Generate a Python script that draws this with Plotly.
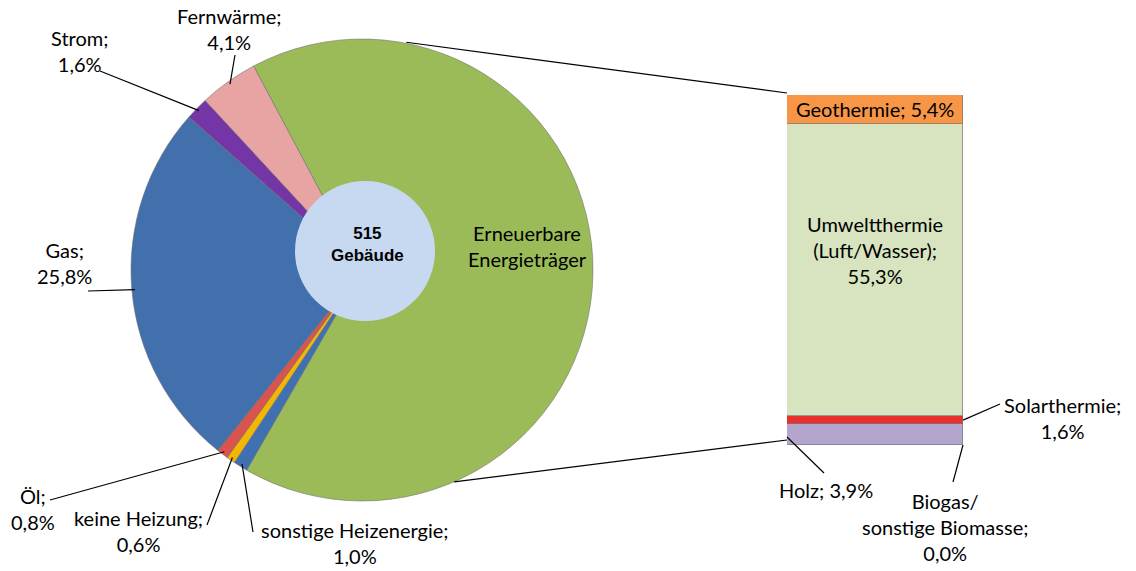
import math
import plotly.graph_objects as go

W, H = 1136, 571          # reference picture size
OFF = 0                   # page body margin is removed by post_script
FW, FH = W - 2 * OFF, H - 2 * OFF

# ---------------- data ----------------
pie_labels = ["Erneuerbare Energieträger", "sonstige Heizenergie", "keine Heizung",
              "Öl", "Gas", "Strom", "Fernwärme"]
pie_values = [66.1, 1.0, 0.6, 0.8, 25.8, 1.6, 4.1]
pie_colors = ["#9BBB59", "#3F70B2", "#F2B705", "#D9534F", "#4170AC", "#7436A6", "#E8A4A3"]

bar_labels = ["Biogas/ sonstige Biomasse", "Holz", "Solarthermie",
              "Umweltthermie (Luft/Wasser)", "Geothermie"]
bar_values = [0.0, 3.9, 1.6, 55.3, 5.4]
bar_colors = ["#8064A2", "#B3A5CC", "#E8302E", "#D7E4BF", "#F79646"]

center_text = "<b>515<br>Gebäude</b>"


def pct(v):
    return f"{v:.1f}".replace(".", ",") + "%"


# ---------------- layout helpers (reference pixels -> paper) ----------------
def px(x):
    return (x - OFF) / FW


def py(y):
    return 1 - (y - OFF) / FH


PIE_CX, PIE_CY, PIE_R = 362, 270, 231
ROT = -28
pie_dom_x = [px(PIE_CX - PIE_R), px(PIE_CX + PIE_R)]
pie_dom_y = [py(PIE_CY + PIE_R), py(PIE_CY - PIE_R)]

BAR_L, BAR_R, BAR_T, BAR_B = 787, 963, 95, 445
bar_dom_x = [px(BAR_L), px(BAR_R)]
bar_dom_y = [py(BAR_B), py(BAR_T)]
bar_total = sum(bar_values)

FONT = "Lato, 'Open Sans', sans-serif"
FS = 20

fig = go.Figure()

fig.add_trace(go.Pie(
    labels=pie_labels, values=pie_values, sort=False, direction="clockwise",
    rotation=ROT, textinfo="none", hoverinfo="label+percent",
    marker=dict(colors=pie_colors, line=dict(color="rgba(110,110,110,0.55)", width=1)),
    domain=dict(x=pie_dom_x, y=pie_dom_y), showlegend=False,
))

for lab, val, col in zip(bar_labels, bar_values, bar_colors):
    fig.add_trace(go.Bar(
        x=[0], y=[val], name=lab, width=1, marker=dict(color=col,
        line=dict(color="rgba(120,120,120,0.7)", width=1)),
        showlegend=False, xaxis="x", yaxis="y", hoverinfo="name+y",
    ))

# slice mid angles (clockwise from 12 o'clock), from data
ptotal = sum(pie_values)
mids = []
a0 = ROT
for v in pie_values:
    span = v / ptotal * 360
    mids.append(a0 + span / 2)
    a0 += span


def edge(angle_deg, r=PIE_R):
    a = math.radians(angle_deg)
    return PIE_CX + r * math.sin(a), PIE_CY - r * math.cos(a)


shapes = []
annotations = []


def label(x, y, text, size=FS, family=FONT):
    annotations.append(dict(x=x, y=y, xref="paper", yref="paper", text=text,
                            showarrow=False, xanchor="center", yanchor="middle",
                            font=dict(family=family, size=size, color="#000")))


def line(x0, y0, x1, y1):
    shapes.append(dict(type="line", xref="paper", yref="paper", x0=x0, y0=y0,
                       x1=x1, y1=y1, line=dict(color="#000", width=1.2)))


# label placement: (text centre px, line end px or None)
pie_label_pos = [
    ((527, 246), None),
    ((355, 543), (253, 532)),
    ((138, 531), (207, 525)),
    ((33, 509), (50, 500)),
    ((64, 263), (88, 291)),
    ((79, 51), (100, 71)),
    ((229, 29), (235, 55)),
]

for i, (lab, val) in enumerate(zip(pie_labels, pie_values)):
    (tx, ty), lend = pie_label_pos[i]
    if i == 0:
        text = "Erneuerbare<br>Energieträger"
    else:
        text = f"{lab};<br>{pct(val)}"
    label(px(tx), py(ty), text)
    if lend is not None:
        ex, ey = edge(mids[i], PIE_R - 3)
        line(px(ex), py(ey), px(lend[0]), py(lend[1]))

# centre circle
CC_X, CC_Y, CC_R = 365, 251, 70
shapes.append(dict(type="circle", xref="paper", yref="paper",
                   x0=px(CC_X - CC_R), x1=px(CC_X + CC_R),
                   y0=py(CC_Y + CC_R), y1=py(CC_Y - CC_R),
                   fillcolor="#C6D9F1", line=dict(width=0), layer="above"))
label(px(CC_X + 2), py(CC_Y - 7), center_text, size=17,
      family="Liberation Sans, Arial, sans-serif")

# connector lines pie -> bar
tx_, ty_ = edge(11, PIE_R + 1)
bx_, by_ = edge(156.5, PIE_R)
line(px(tx_), py(ty_), bar_dom_x[0], bar_dom_y[1] + 2 / FH)
line(px(bx_), py(by_), bar_dom_x[0], bar_dom_y[0] + 5 / FH)


def bar_y(v):
    return bar_dom_y[0] + v / bar_total * (bar_dom_y[1] - bar_dom_y[0])


cum = [0]
for v in bar_values:
    cum.append(cum[-1] + v)
bmid = [(cum[i] + cum[i + 1]) / 2 for i in range(len(bar_values))]
bar_cx = (bar_dom_x[0] + bar_dom_x[1]) / 2

# inside labels
label(bar_cx, bar_y(bmid[4]), f"Geothermie; {pct(bar_values[4])}")
label(bar_cx, bar_y(bmid[3]) + 20 / FH,
      f"Umweltthermie<br>(Luft/Wasser);<br>{pct(bar_values[3])}")

# outside labels
outside = [
    (f"Solarthermie;<br>{pct(bar_values[2])}", (1062, 418), (bar_dom_x[1], bar_y(bmid[2])), (1000, 404)),
    (f"Holz; {pct(bar_values[1])}", (826, 490), (bar_dom_x[0], bar_y(bmid[1]) - 0.004), (824, 473)),
    (f"Biogas/<br>sonstige Biomasse;<br>{pct(bar_values[0])}", (945, 527), (bar_dom_x[1], bar_y(cum[0])), (953, 482)),
]
for text, (tx, ty), (ax, ay), (lx, ly) in outside:
    label(px(tx), py(ty), text)
    line(ax, ay, px(lx), py(ly))

fig.update_layout(
    width=FW, height=FH, margin=dict(l=0, r=0, t=0, b=0),
    paper_bgcolor="white", plot_bgcolor="rgba(0,0,0,0)",
    barmode="stack", bargap=0,
    xaxis=dict(domain=bar_dom_x, range=[-0.5, 0.5], visible=False, fixedrange=True),
    yaxis=dict(domain=bar_dom_y, range=[0, bar_total], visible=False, fixedrange=True),
    shapes=shapes, annotations=annotations,
)

fig.write_html("out.html", config={"displayModeBar": False},
               post_script="document.body.style.margin='0px';document.body.style.overflow='hidden';")
